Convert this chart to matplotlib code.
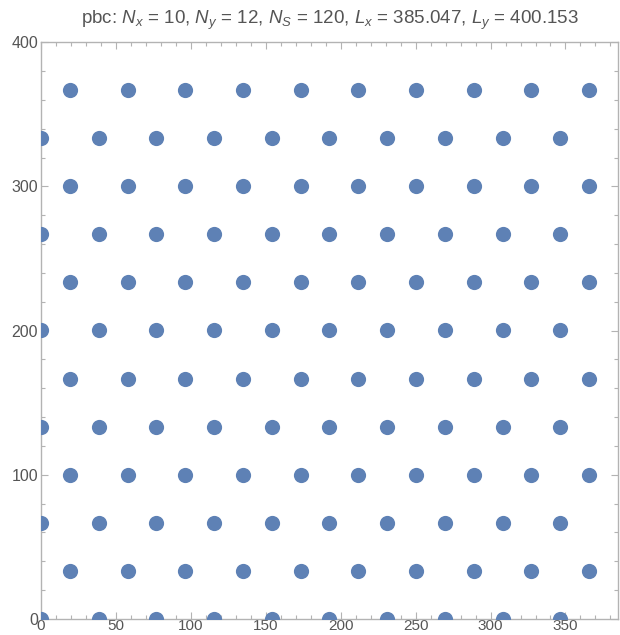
import matplotlib.pyplot as plt
from matplotlib.ticker import MultipleLocator

# lattice sites
x_even = [0, 38.5, 77.0, 115.5, 154.0, 192.5, 231.0, 269.5, 308.0, 346.5]
x_odd = [19.3, 57.8, 96.3, 134.8, 173.3, 211.8, 250.3, 288.8, 327.3, 365.8]
y_even = [0, 66.7, 133.4, 200.1, 266.8, 333.5]
y_odd = [33.3, 100.0, 166.7, 233.4, 300.1, 366.8]

xs, ys = [], []
for y in y_even:
    xs += x_even
    ys += [y] * len(x_even)
for y in y_odd:
    xs += x_odd
    ys += [y] * len(x_odd)

gray = "#555555"
frame = "#b3b3b3"

plt.rcParams["font.family"] = ["Liberation Sans", "DejaVu Sans"]
plt.rcParams["mathtext.fontset"] = "custom"
plt.rcParams["mathtext.rm"] = "Liberation Sans"
plt.rcParams["mathtext.it"] = "Liberation Sans:italic"

fig = plt.figure(figsize=(6.2, 6.35), dpi=100)
ax = fig.add_axes([41 / 620, 1 - 619 / 635, 577 / 620, 577 / 635])

ax.scatter(xs, ys, s=120, color="#5E81B5", linewidths=0, zorder=3)

ax.set_xlim(0, 385.047)
ax.set_ylim(0, 400.153)
ax.xaxis.set_major_locator(MultipleLocator(50))
ax.xaxis.set_minor_locator(MultipleLocator(10))
ax.yaxis.set_major_locator(MultipleLocator(100))
ax.yaxis.set_minor_locator(MultipleLocator(20))

for s in ax.spines.values():
    s.set_color(frame)
    s.set_linewidth(1.0)
ax.tick_params(which="both", direction="in", top=True, right=True, color=frame,
               labelcolor=gray, labelsize=11.5, width=0.8, pad=2)
ax.tick_params(axis="x", which="both", labelsize=11, pad=0.3)
ax.tick_params(which="major", length=5)
ax.tick_params(which="minor", length=3)

ax.set_title(r"pbc: $N_x$ = 10, $N_y$ = 12, $N_S$ = 120, $L_x$ = 385.047, $L_y$ = 400.153",
             color=gray, fontsize=13.5, pad=13)

fig.savefig("out.png", dpi=100)
